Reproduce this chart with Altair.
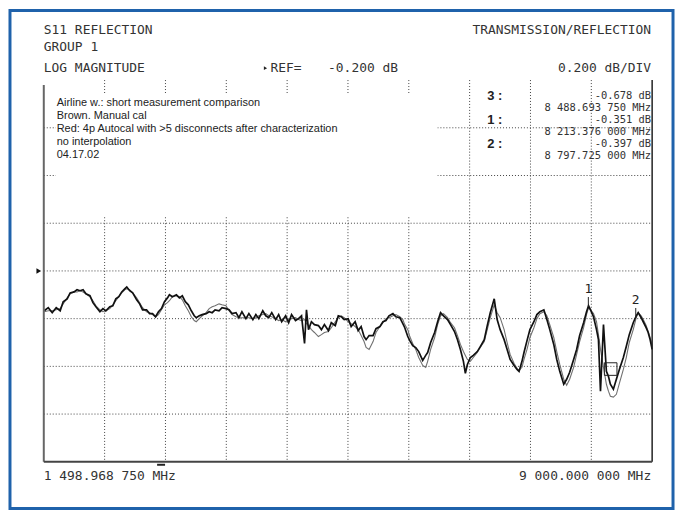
import altair as alt
import pandas as pd

# ---------------- data ----------------
freq_mhz = [
    1505, 1554, 1603, 1652, 1701, 1738, 1787, 1824, 1872, 1909,
    1946, 1983, 2019, 2068, 2105, 2142, 2191, 2228, 2264, 2313,
    2350, 2387, 2424, 2460, 2497, 2522, 2558, 2595, 2644, 2681,
    2717, 2766, 2803, 2840, 2877, 2913, 2950, 2987, 3024, 3048,
    3085, 3134, 3171, 3207, 3244, 3281, 3318, 3354, 3379, 3416,
    3452, 3501, 3538, 3575, 3611, 3660, 3697, 3746, 3783, 3820,
    3869, 3905, 3942, 3991, 4028, 4077, 4114, 4150, 4199, 4236,
    4273, 4310, 4358, 4395, 4432, 4481, 4518, 4554, 4603, 4640,
    4677, 4714, 4738, 4763, 4799, 4836, 4885, 4922, 4959, 5008,
    5044, 5093, 5130, 5167, 5203, 5252, 5289, 5338, 5375, 5412,
    5448, 5473, 5510, 5559, 5595, 5644, 5681, 5718, 5755, 5804,
    5840, 5889, 5926, 5950, 5987, 6012, 6048, 6085, 6122, 6171,
    6208, 6232, 6269, 6318, 6355, 6391, 6428, 6477, 6514, 6563,
    6600, 6636, 6673, 6697, 6722, 6759, 6795, 6844, 6881, 6930,
    6967, 7004, 7053, 7089, 7126, 7175, 7212, 7249, 7298, 7334,
    7359, 7395, 7420, 7457, 7493, 7542, 7579, 7616, 7665, 7702,
    7738, 7787, 7824, 7861, 7910, 7946, 7983, 8032, 8069, 8106,
    8155, 8191, 8216, 8240, 8277, 8314, 8338, 8363, 8400, 8436,
    8461, 8485, 8522, 8559, 8596, 8645, 8681, 8718, 8767, 8804,
    8828, 8865, 8890, 8926, 8951, 8975, 9000,
]

trace_dark_db = [
    -0.367, -0.354, -0.375, -0.354, -0.367, -0.329, -0.317, -0.292, -0.288, -0.279,
    -0.283, -0.279, -0.296, -0.304, -0.333, -0.350, -0.371, -0.358, -0.367, -0.350,
    -0.346, -0.317, -0.308, -0.288, -0.275, -0.267, -0.283, -0.292, -0.321, -0.338,
    -0.363, -0.363, -0.379, -0.379, -0.392, -0.371, -0.358, -0.329, -0.313, -0.300,
    -0.308, -0.300, -0.313, -0.304, -0.329, -0.342, -0.367, -0.388, -0.396, -0.388,
    -0.383, -0.379, -0.371, -0.375, -0.363, -0.367, -0.354, -0.358, -0.363, -0.379,
    -0.375, -0.396, -0.371, -0.400, -0.379, -0.404, -0.383, -0.400, -0.367, -0.388,
    -0.396, -0.375, -0.404, -0.383, -0.413, -0.388, -0.417, -0.383, -0.408, -0.400,
    -0.388, -0.504, -0.363, -0.446, -0.413, -0.425, -0.429, -0.446, -0.425, -0.450,
    -0.417, -0.429, -0.388, -0.392, -0.404, -0.400, -0.433, -0.413, -0.450, -0.433,
    -0.475, -0.488, -0.471, -0.471, -0.442, -0.433, -0.413, -0.408, -0.388, -0.379,
    -0.392, -0.396, -0.421, -0.438, -0.475, -0.492, -0.513, -0.521, -0.538, -0.575,
    -0.554, -0.542, -0.500, -0.458, -0.413, -0.375, -0.388, -0.404, -0.425, -0.454,
    -0.488, -0.529, -0.579, -0.629, -0.592, -0.563, -0.554, -0.538, -0.517, -0.488,
    -0.429, -0.375, -0.317, -0.404, -0.446, -0.488, -0.529, -0.571, -0.596, -0.613,
    -0.621, -0.579, -0.542, -0.492, -0.446, -0.413, -0.383, -0.371, -0.363, -0.404,
    -0.446, -0.508, -0.571, -0.621, -0.675, -0.654, -0.625, -0.571, -0.529, -0.471,
    -0.417, -0.371, -0.346, -0.363, -0.392, -0.446, -0.488, -0.704, -0.425, -0.621,
    -0.642, -0.675, -0.696, -0.654, -0.613, -0.563, -0.517, -0.467, -0.417, -0.388,
    -0.375, -0.396, -0.413, -0.438, -0.458, -0.488, -0.529,
]

trace_light_db = [
    -0.371, -0.367, -0.367, -0.363, -0.358, -0.338, -0.313, -0.296, -0.288, -0.288,
    -0.283, -0.288, -0.296, -0.308, -0.325, -0.346, -0.363, -0.371, -0.367, -0.358,
    -0.342, -0.325, -0.308, -0.292, -0.279, -0.275, -0.279, -0.292, -0.313, -0.333,
    -0.354, -0.371, -0.375, -0.383, -0.392, -0.383, -0.363, -0.342, -0.333, -0.325,
    -0.308, -0.304, -0.308, -0.321, -0.346, -0.367, -0.392, -0.408, -0.413, -0.400,
    -0.388, -0.375, -0.358, -0.350, -0.346, -0.338, -0.342, -0.346, -0.367, -0.383,
    -0.392, -0.396, -0.396, -0.396, -0.396, -0.400, -0.396, -0.388, -0.383, -0.379,
    -0.388, -0.392, -0.400, -0.408, -0.404, -0.413, -0.404, -0.400, -0.396, -0.404,
    -0.408, -0.404, -0.421, -0.429, -0.446, -0.458, -0.475, -0.467, -0.458, -0.454,
    -0.438, -0.413, -0.396, -0.388, -0.396, -0.413, -0.421, -0.433, -0.446, -0.471,
    -0.496, -0.521, -0.529, -0.496, -0.458, -0.433, -0.417, -0.400, -0.396, -0.388,
    -0.383, -0.392, -0.404, -0.425, -0.446, -0.475, -0.504, -0.529, -0.563, -0.596,
    -0.604, -0.579, -0.529, -0.479, -0.425, -0.388, -0.379, -0.396, -0.417, -0.438,
    -0.471, -0.508, -0.538, -0.554, -0.571, -0.579, -0.563, -0.542, -0.521, -0.496,
    -0.446, -0.396, -0.342, -0.375, -0.396, -0.446, -0.500, -0.550, -0.588, -0.608,
    -0.617, -0.604, -0.571, -0.529, -0.479, -0.438, -0.400, -0.379, -0.371, -0.388,
    -0.425, -0.479, -0.538, -0.592, -0.654, -0.679, -0.654, -0.604, -0.550, -0.496,
    -0.438, -0.383, -0.354, -0.363, -0.379, -0.413, -0.467, -0.529, -0.604, -0.675,
    -0.704, -0.725, -0.729, -0.717, -0.671, -0.613, -0.563, -0.500, -0.446, -0.396,
    -0.375, -0.388, -0.404, -0.429, -0.454, -0.479, -0.513,
]

x_domain_mhz = [1498.96875, 9000.0]
y_domain_db = [-1.0, 0.6]
x_grid_mhz = [2249.072, 2999.175, 3749.278, 4499.381, 5249.484,
              5999.588, 6749.691, 7499.794, 8249.897]
y_grid_db = [0.4, 0.2, 0.0, -0.2, -0.4, -0.6, -0.8]
ref_db = [-0.2]

marker_ids = ["1", "2", "3"]
marker_freq_mhz = [8213.376, 8797.725, 8488.69375]
marker_db = [-0.351, -0.397, -0.678]

header_left = ["S11 REFLECTION", "GROUP 1", "LOG MAGNITUDE"]
header_right = ["TRANSMISSION/REFLECTION", "0.200 dB/DIV"]
ref_label = ["REF=", "-0.200 dB"]
bottom_labels = ["1 498.968 750 MHz", "9 000.000 000 MHz"]
note_lines = [
    "Airline w.: short measurement comparison",
    "Brown. Manual cal",
    "Red: 4p Autocal with >5 disconnects after characterization",
    "no interpolation",
    "04.17.02",
]
readout_ids = ["3 :", "1 :", "2 :"]
readout_db = ["-0.678 dB", "-0.351 dB", "-0.397 dB"]
readout_freq = ["8 488.693 750 MHz", "8 213.376 000 MHz", "8 797.725 000 MHz"]

# ---------------- chart ----------------
W, H = 612, 384
MONO = "DejaVu Sans Mono"
SANS = "Liberation Sans"
INK = "#333333"

df = pd.DataFrame({"freq": freq_mhz, "dark": trace_dark_db, "light": trace_light_db})
mk = pd.DataFrame({"id": marker_ids, "freq": marker_freq_mhz, "db": marker_db})
one = pd.DataFrame({"k": [0]})

xs = alt.Scale(domain=x_domain_mhz, nice=False, zero=False)
ys = alt.Scale(domain=y_domain_db, nice=False, zero=False)


def label(text, x, y, align="left", size=13, font=MONO, weight="normal", color=INK):
    return alt.Chart(one).mark_text(
        text=text, align=align, baseline="middle", font=font, fontSize=size,
        fontWeight=weight, color=color
    ).encode(x=alt.value(x), y=alt.value(y))


layers = []

# outer blue frame
layers.append(alt.Chart(one).mark_rect(fillOpacity=0, stroke="#1f62ab", strokeWidth=3).encode(
    x=alt.value(-34), x2=alt.value(633), y=alt.value(-70), y2=alt.value(431)))

# dotted graticule
layers.append(alt.Chart(pd.DataFrame({"f": x_grid_mhz})).mark_rule(
    color="#444444", strokeWidth=1, strokeDash=[1, 2]).encode(
    x=alt.X("f:Q", scale=xs, axis=None), y=alt.value(0), y2=alt.value(H)))
layers.append(alt.Chart(pd.DataFrame({"d": y_grid_db})).mark_rule(
    color="#444444", strokeWidth=1, strokeDash=[1, 2]).encode(
    y=alt.Y("d:Q", scale=ys, axis=None), x=alt.value(0), x2=alt.value(W)))

# traces
layers.append(alt.Chart(df).mark_line(color="#707070", strokeWidth=1.1).encode(
    x=alt.X("freq:Q", scale=xs, axis=None),
    y=alt.Y("light:Q", scale=ys, axis=None)))
layers.append(alt.Chart(df).mark_line(color="#111111", strokeWidth=1.7).encode(
    x=alt.X("freq:Q", scale=xs, axis=None),
    y=alt.Y("dark:Q", scale=ys, axis=None)))

# white annotation box hiding the grid
layers.append(alt.Chart(one).mark_rect(color="white").encode(
    x=alt.value(12), x2=alt.value(396), y=alt.value(13), y2=alt.value(137)))

# plot frame (left, right, bottom)
layers.append(alt.Chart(one).mark_rule(color="#666666", strokeWidth=2).encode(
    x=alt.value(0), y=alt.value(5), y2=alt.value(H)))
layers.append(alt.Chart(one).mark_rule(color="#222222", strokeWidth=1.5).encode(
    x=alt.value(W), y=alt.value(0), y2=alt.value(H)))
layers.append(alt.Chart(one).mark_rule(color="#444444", strokeWidth=2).encode(
    x=alt.value(0), x2=alt.value(W), y=alt.value(H)))
layers.append(alt.Chart(one).mark_rule(color="#222222", strokeWidth=2).encode(
    x=alt.value(114), x2=alt.value(122), y=alt.value(H + 3)))

# reference level arrow
layers.append(alt.Chart(pd.DataFrame({"db": ref_db})).mark_point(
    shape="triangle-right", size=30, filled=True, color="#111111", opacity=1).encode(
    x=alt.value(-5), y=alt.Y("db:Q", scale=ys, axis=None)))

# markers
mk_base = alt.Chart(mk).encode(x=alt.X("freq:Q", scale=xs, axis=None),
                               y=alt.Y("db:Q", scale=ys, axis=None))
layers.append(mk_base.transform_filter("datum.id != '3'").mark_point(
    shape="M0,-1L0,1", size=100, yOffset=-5, filled=False, color="#222222",
    strokeWidth=1, opacity=1))
layers.append(mk_base.transform_filter("datum.id != '3'").mark_text(
    font=MONO, fontSize=13, dy=-18, color="#222222", baseline="middle").encode(text="id:N"))
layers.append(mk_base.transform_filter("datum.id == '3'").mark_point(
    shape="square", size=160, yOffset=-16, filled=False, color="#222222",
    strokeWidth=1, opacity=1))

# header texts
for i, y in enumerate([-50, -33, -12]):
    layers.append(label(header_left[i], 0, y))
layers.append(label(header_right[0], W - 1, -50, align="right"))
layers.append(label(header_right[1], W - 1, -12, align="right"))
layers.append(alt.Chart(one).mark_point(shape="triangle-right", size=14, filled=True,
                                         color="#222222", opacity=1).encode(
    x=alt.value(223), y=alt.value(-12)))
layers.append(label(ref_label[0], 228, -12))
layers.append(label(ref_label[1], 286, -12))

# bottom texts
layers.append(label(bottom_labels[0], 0, H + 14))
layers.append(label(bottom_labels[1], W - 1, H + 14, align="right"))

# annotation lines
for i, s in enumerate(note_lines):
    layers.append(label(s, 13, 23 + 13 * i, size=11, font=SANS, color="#222222"))

# marker readout
for i, yb in enumerate([16, 40, 64]):
    layers.append(label(readout_ids[i], 446, yb, size=13, font=SANS, weight="bold", color="#222222"))
    layers.append(label(readout_db[i], W - 1, yb, align="right", size=10.5))
    layers.append(label(readout_freq[i], W - 1, yb + 12, align="right", size=10.5))

chart = alt.layer(*layers).properties(
    width=W, height=H,
    autosize=alt.AutoSizeParams(type="none"),
    padding={"left": 36, "top": 71, "right": 24, "bottom": 49},
    background="white",
).configure_view(stroke=None)

chart.save("out.html", embed_options={"renderer": "svg", "actions": False})
